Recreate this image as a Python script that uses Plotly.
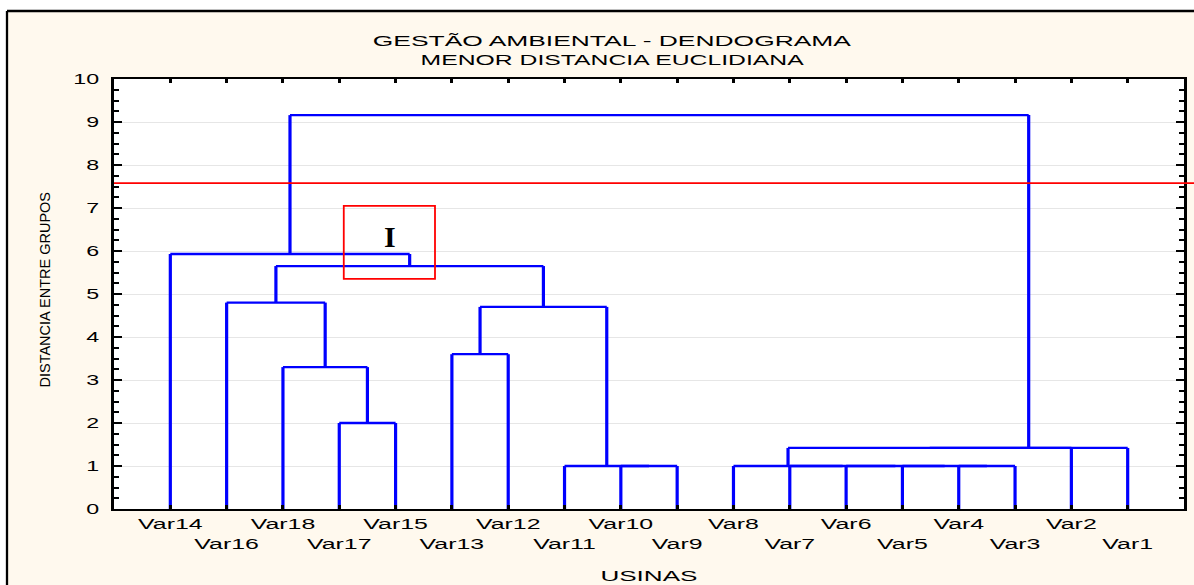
import plotly.graph_objects as go

# ---- data ----
leaves = ["Var14", "Var16", "Var18", "Var17", "Var15", "Var13", "Var12", "Var11", "Var10",
          "Var9", "Var8", "Var7", "Var6", "Var5", "Var4", "Var3", "Var2", "Var1"]
# (left member, right member, linkage distance) -> new cluster C1, C2, ...
merge_a = ["Var10", "Var11", "Var4", "Var5", "Var6", "Var7", "Var8", "Var17", "Var18",
           "Var13", "C10", "Var16", "C12", "Var14", "C7", "C15", "C14"]
merge_b = ["Var9", "C1", "Var3", "C3", "C4", "C5", "C6", "Var15", "C8",
           "Var12", "C2", "C9", "C11", "C13", "Var2", "Var1", "C16"]
merge_h = [1.0, 1.0, 1.0, 1.0, 1.0, 1.0, 1.0, 2.0, 3.3,
           3.6, 4.7, 4.8, 5.65, 5.93, 1.42, 1.42, 9.16]
cut_level = 7.58
ytick_vals = list(range(0, 11))

# ---- dendrogram geometry from the linkage ----
pos = {name: i + 1 for i, name in enumerate(leaves)}
hgt = {name: 0.0 for name in leaves}
vx, vy, hx, hy = [], [], [], []
for k, (a, b, h) in enumerate(zip(merge_a, merge_b, merge_h), start=1):
    vx += [pos[a], pos[a], None, pos[b], pos[b], None]
    vy += [hgt[a], h, None, hgt[b], h, None]
    hx += [pos[a], pos[b], None]
    hy += [h, h, None]
    c = "C%d" % k
    pos[c] = (pos[a] + pos[b]) / 2.0
    hgt[c] = h

ticktext = [lab if i % 2 == 0 else "<br>" + lab for i, lab in enumerate(leaves)]

fig = go.Figure()
fig.add_trace(go.Scatter(x=hx, y=hy, mode="lines",
                         line=dict(color="#0000FF", width=2.3),
                         hoverinfo="skip", showlegend=False))
fig.add_trace(go.Scatter(x=vx, y=vy, mode="lines",
                         line=dict(color="#0000FF", width=3.2),
                         hoverinfo="skip", showlegend=False))

W, H = 1194, 585
L, R, T, B = 114, 10, 79, 76
pw, ph = W - L - R, H - T - B


def px(xpix):
    return (xpix - L) / pw


def py(ypix):
    return (H - B - ypix) / ph


CREAM = "#FFF9EE"
shapes = [
    dict(type="rect", xref="paper", yref="paper", x0=px(-5), x1=px(7), y0=py(600), y1=py(-5),
         fillcolor="white", line=dict(width=0), layer="above"),
    dict(type="rect", xref="paper", yref="paper", x0=px(-5), x1=px(1200), y0=py(11), y1=py(-5),
         fillcolor="white", line=dict(width=0), layer="above"),
    dict(type="line", xref="paper", yref="paper", x0=px(7), x1=px(7), y0=py(11), y1=py(600),
         line=dict(color="black", width=2.3)),
    dict(type="line", xref="paper", yref="paper", x0=px(7), x1=px(1200), y0=py(11), y1=py(11),
         line=dict(color="black", width=2.5)),
    dict(type="line", xref="paper", yref="y", x0=0, x1=px(1200), y0=cut_level, y1=cut_level,
         line=dict(color="#FF0000", width=1.8)),
    dict(type="rect", xref="x", yref="y", x0=4.08, x1=5.70, y0=5.35, y1=7.05,
         line=dict(color="#FF0000", width=1.8), fillcolor="rgba(0,0,0,0)"),
]

FONT = "Liberation Sans, Arial"
annotations = [
    dict(text="GESTÃO AMBIENTAL - DENDOGRAMA", xref="paper", yref="paper", x=px(612), y=py(40),
         xanchor="center", yanchor="middle", showarrow=False,
         font=dict(family=FONT, size=15, color="black")),
    dict(text="MENOR DISTANCIA EUCLIDIANA", xref="paper", yref="paper", x=px(612), y=py(60),
         xanchor="center", yanchor="middle", showarrow=False,
         font=dict(family=FONT, size=15, color="black")),
    dict(text="USINAS", xref="paper", yref="paper", x=px(649), y=py(575),
         xanchor="center", yanchor="middle", showarrow=False,
         font=dict(family=FONT, size=15, color="black")),
    dict(text="DISTANCIA ENTRE GRUPOS", xref="paper", yref="paper", x=px(44.5), y=py(290),
         xanchor="center", yanchor="middle", showarrow=False, textangle=-90,
         font=dict(family=FONT, size=14.5, color="black")),
    dict(text="<b>I</b>", xref="x", yref="y", x=4.9, y=6.33,
         xanchor="center", yanchor="middle", showarrow=False,
         font=dict(family="Liberation Serif, Times New Roman", size=30, color="black")),
]

fig.update_layout(
    width=W, height=H,
    margin=dict(l=L, r=R, t=T, b=B, autoexpand=False),
    paper_bgcolor=CREAM, plot_bgcolor="white",
    shapes=shapes, annotations=annotations,
    showlegend=False,
    xaxis=dict(range=[0, 19], tickvals=list(range(1, 19)), ticktext=ticktext,
               ticks="inside", ticklen=4, tickwidth=3, tickcolor="black",
               showline=True, linewidth=2.3, linecolor="black", mirror="ticks",
               showgrid=False, zeroline=False, automargin=False,
               tickfont=dict(family=FONT, size=15, color="black")),
    yaxis=dict(range=[0, 10], tickvals=ytick_vals,
               ticks="inside", ticklen=8, tickwidth=2, tickcolor="black",
               showline=True, linewidth=3.2, linecolor="black", mirror="ticks",
               showgrid=True, gridcolor="#E6E6E6", gridwidth=1, zeroline=False,
               ticklabelstandoff=9, automargin=False,
               minor=dict(dtick=0.25, ticks="inside", ticklen=5, tickwidth=1.6,
                          tickcolor="black", showgrid=False),
               tickfont=dict(family=FONT, size=14, color="black")),
)

# remove default page margin and widen the (horizontally stretched) source lettering
post = """
document.body.style.margin = '0';
var gd = document.getElementById('{plot_id}');
function stretch(t, s) {
  var x = parseFloat(t.getAttribute('x') || '0');
  var tr = t.getAttribute('transform') || '';
  t.setAttribute('transform', tr + ' translate(' + x + ',0) scale(' + s + ',1) translate(' + (-x) + ',0)');
}
gd.querySelectorAll('.xtick text, .ytick text').forEach(function(t){ stretch(t, 1.66); });
var factors = {'0': 1.76, '1': 1.65, '2': 1.74};
gd.querySelectorAll('g.annotation').forEach(function(g){
  var idx = g.getAttribute('data-index');
  if (factors[idx] !== undefined) {
    var t = g.querySelector('text.annotation-text');
    if (t) stretch(t, factors[idx]);
  }
});
"""

fig.write_html("out.html", post_script=post, config={"displayModeBar": False})
